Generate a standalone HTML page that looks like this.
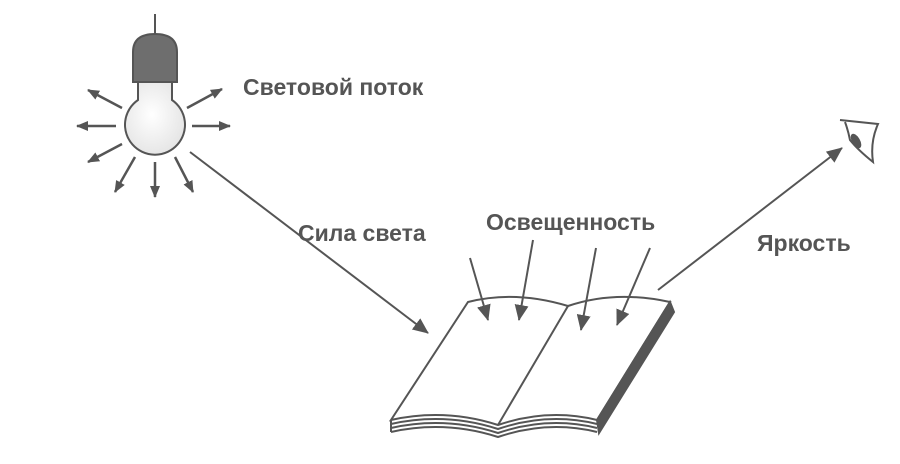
<!DOCTYPE html>
<html><head><meta charset="utf-8"><style>
body{margin:0;background:#fff;width:900px;height:464px;overflow:hidden}
svg{display:block}
text{font-family:"Liberation Sans",sans-serif;font-weight:bold;font-size:23px;fill:#555}
</style></head><body>
<svg width="900" height="464" viewBox="0 0 900 464">
<defs>
<marker id="a" markerWidth="12" markerHeight="10" refX="11" refY="5" orient="auto" markerUnits="userSpaceOnUse"><path d="M0,0 L12,5 L0,10 z" fill="#555"/></marker>
<marker id="b" markerWidth="16" markerHeight="14" refX="15" refY="7" orient="auto" markerUnits="userSpaceOnUse"><path d="M0,0 L16,7 L0,14 z" fill="#555"/></marker>
<radialGradient id="g" cx="0.45" cy="0.45" r="0.6"><stop offset="0" stop-color="#fff"/><stop offset="1" stop-color="#e4e4e4"/></radialGradient>
</defs>
<g stroke="#555" stroke-width="2" fill="none">
<line x1="155" y1="14" x2="155" y2="36"/>
<path d="M133,82 L133,52 Q133,34 155,34 Q177,34 177,52 L177,82 Z" fill="#6e6e6e"/>
<path d="M138,82 L138,100 A30,30 0 1 0 172,100 L172,82 Z" fill="url(#g)"/>
<g stroke-width="2.5">
<line x1="122" y1="108" x2="88" y2="90" marker-end="url(#a)"/>
<line x1="116" y1="126" x2="77" y2="126" marker-end="url(#a)"/>
<line x1="122" y1="144" x2="88" y2="162" marker-end="url(#a)"/>
<line x1="135" y1="157" x2="115" y2="192" marker-end="url(#a)"/>
<line x1="155" y1="162" x2="155" y2="197" marker-end="url(#a)"/>
<line x1="175" y1="157" x2="193" y2="192" marker-end="url(#a)"/>
<line x1="187" y1="108" x2="222" y2="89" marker-end="url(#a)"/>
<line x1="192" y1="126" x2="230" y2="126" marker-end="url(#a)"/>
</g>
<line x1="190" y1="152" x2="428" y2="333" marker-end="url(#b)"/>
<line x1="658" y1="290" x2="842" y2="148" marker-end="url(#b)"/>
<!-- book -->
<path d="M468,302 Q515,290 568,306 Q615,290 670,302 L597,420 Q548,408 498,425 Q445,408 391,420 Z" fill="#fff"/>
<line x1="568" y1="306" x2="498" y2="425"/>
<path d="M670,302 L674,312 L599,433 L597,420 Z" fill="#555"/>
<path d="M391,424 Q445,412 498,429 Q548,412 597,424" />
<path d="M391,428 Q445,416 498,433 Q548,416 597,428" />
<path d="M391,432 Q445,420 498,437 Q548,420 597,432" />
<line x1="391" y1="420" x2="391" y2="432"/>
<line x1="470" y1="258" x2="488" y2="320" marker-end="url(#b)"/>
<line x1="533" y1="240" x2="519" y2="320" marker-end="url(#b)"/>
<line x1="596" y1="248" x2="581" y2="330" marker-end="url(#b)"/>
<line x1="650" y1="248" x2="617" y2="325" marker-end="url(#b)"/>
<!-- eye -->
<path d="M840,120 L878,124 Q870,142 873,162 Q858,150 850,140 Q848,130 845,122"/>
</g>
<ellipse cx="856" cy="141" rx="4" ry="8" transform="rotate(-30 856 141)" fill="#555"/>
<text x="243" y="95">Световой поток</text>
<text x="298" y="241">Сила света</text>
<text x="486" y="230">Освещенность</text>
<text x="757" y="251">Яркость</text>
</svg>
</body></html>
